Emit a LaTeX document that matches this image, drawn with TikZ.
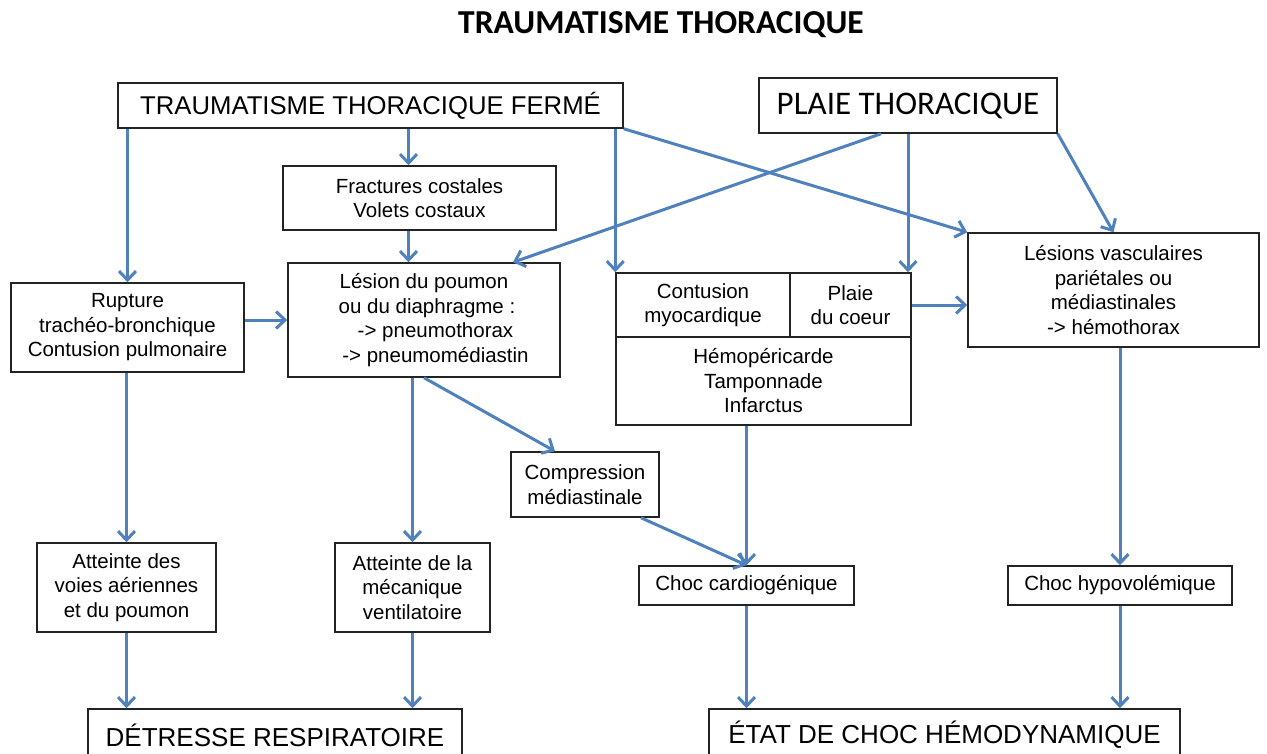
\documentclass[tikz,border=0pt]{standalone}
\usepackage{fontspec}
\setmainfont{Liberation Sans}
\newfontfamily\calibrifont{Carlito}
\usetikzlibrary{arrows.meta,positioning}

\begin{document}
\begin{tikzpicture}[x=1pt, y=-1pt,
  % ---- colours --------------------------------------------------------
  /utils/exec={%
    \definecolor{flowblue}{RGB}{ 79,129,189}%
    \definecolor{boxgrey} {RGB}{ 35, 35, 35}%
  },
  % ---- boxes and arrows -----------------------------------------------
  box/.style={
    draw=boxgrey, line width=1.5pt, fill=white,
    align=center, inner sep=0pt, font=\fontsize{20.5}{24.5}\selectfont
  },
  bigbox/.style={box, font=\fontsize{26}{30}\selectfont},
  ttl/.style={font=\calibrifont\bfseries\fontsize{33.5}{36}\selectfont},
  flow/.style={draw=flowblue, line width=3pt, -{Straight Barb[length=9pt,width=17pt]}},
]
\fill[white] (0,0) rectangle (1267,754);
\useasboundingbox (0,0) rectangle (1267,754);

\node[ttl] (title) at (661,25) {TRAUMATISME THORACIQUE};

% =====================================================================
%  ROW 1 : the two kinds of trauma
% =====================================================================
\node[bigbox, font=\fontsize{25.7}{30}\selectfont,
      minimum width=505pt, minimum height=45pt] (ttf) at (370.5,105.5)
      {TRAUMATISME THORACIQUE FERMÉ};
\node[bigbox, font=\calibrifont\fontsize{33}{36}\selectfont,
      minimum width=298pt, minimum height=55pt] (plaie) at (908,105.5)
      {PLAIE THORACIQUE};

% =====================================================================
%  ROW 2 : lesions
% =====================================================================
\node[box, minimum width=273pt, minimum height=64pt] (frac) at (419.5,198)
      {Fractures costales\\Volets costaux};
\node[box, minimum width=272pt, minimum height=114pt] (lesion) at (424,320)
      {\hspace*{0pt}Lésion du poumon\\
       \hspace*{6pt}ou du diaphragme :\\
       \hspace*{23pt}-> pneumothorax\\
       \hspace*{23pt}-> pneumomédiastin};
\node[box, minimum width=233pt, minimum height=89pt] (rupture) at (127.5,327.5)
      {Rupture\\trachéo-bronchique\\Contusion pulmonaire};

% heart block: two cells on top, one below
\node[box, minimum width=174pt, minimum height=64pt] (contusion) at (703,305)
      {Contusion\\myocardique};
\node[box, minimum width=121pt, minimum height=64pt] (coeur) at (850.5,305)
      {Plaie\\du coeur};
\node[box, minimum width=295pt, minimum height=88pt] (hemo) at (763.5,381)
      {Hémopéricarde\\Tamponnade\\Infarctus};

\node[box, minimum width=291pt, minimum height=114pt] (vasc) at (1113.5,290)
      {Lésions vasculaires\\pariétales ou\\médiastinales\\-> hémothorax};

\node[box, minimum width=148pt, minimum height=65pt] (compr) at (585,484.5)
      {Compression\\médiastinale};

% =====================================================================
%  ROW 3 : consequences
% =====================================================================
\node[box, minimum width=179pt, minimum height=89pt] (voies) at (126.5,587.5)
      {Atteinte des\\voies aériennes\\et du poumon};
\node[box, minimum width=155pt, minimum height=89pt] (meca) at (412.5,587.5)
      {Atteinte de la\\mécanique\\ventilatoire};
\node[box, minimum width=215pt, minimum height=39pt] (cardio) at (746.5,585.5)
      {Choc cardiogénique};
\node[box, minimum width=224pt, minimum height=39pt] (hypo) at (1120,585.5)
      {Choc hypovolémique};

\node[bigbox, minimum width=374pt, minimum height=52pt] (detresse) at (275,735)
      {DÉTRESSE RESPIRATOIRE};
\node[bigbox, minimum width=471pt, minimum height=52pt] (etat) at (944.5,735)
      {ÉTAT DE CHOC HÉMODYNAMIQUE};

% =====================================================================
%  FLOW
% =====================================================================
\draw[flow] (rupture.north |- ttf.south) -- (rupture.north);
\draw[flow] ([xshift=-11pt]frac.north |- ttf.south) -- ([xshift=-11pt]frac.north);
\draw[flow] ([xshift=-11pt]frac.south) -- ([xshift=-11pt]frac.south |- lesion.north);
\draw[flow] (contusion.north west |- ttf.south) -- (contusion.north west);
\draw[flow] (ttf.south east) -- (vasc.north west);

\draw[flow] ([xshift=-27pt]plaie.south) -- ([xshift=89pt]lesion.north);
\draw[flow] (plaie.south) -- (plaie.south |- coeur.north);
\draw[flow] (plaie.south east) -- (vasc.north);

\draw[flow] (rupture.east |- lesion.west) -- (lesion.west);
\draw[flow] (coeur.east) -- (coeur.east -| vasc.west);

\draw[flow] (voies.north |- rupture.south) -- (voies.north);
\draw[flow] (meca.north |- lesion.south) -- (meca.north);
\draw[flow] (lesion.south) -- ([xshift=-30pt]compr.north);
\draw[flow] (cardio.north |- hemo.south) -- (cardio.north);
\draw[flow] ([xshift=56pt]compr.south) -- (cardio.north);
\draw[flow] (hypo.north |- vasc.south) -- (hypo.north);

\draw[flow] (voies.south) -- (voies.south |- detresse.north);
\draw[flow] (meca.south) -- (meca.south |- detresse.north);
\draw[flow] (cardio.south) -- (cardio.south |- etat.north);
\draw[flow] (hypo.south) -- (hypo.south |- etat.north);

\end{tikzpicture}
\end{document}
